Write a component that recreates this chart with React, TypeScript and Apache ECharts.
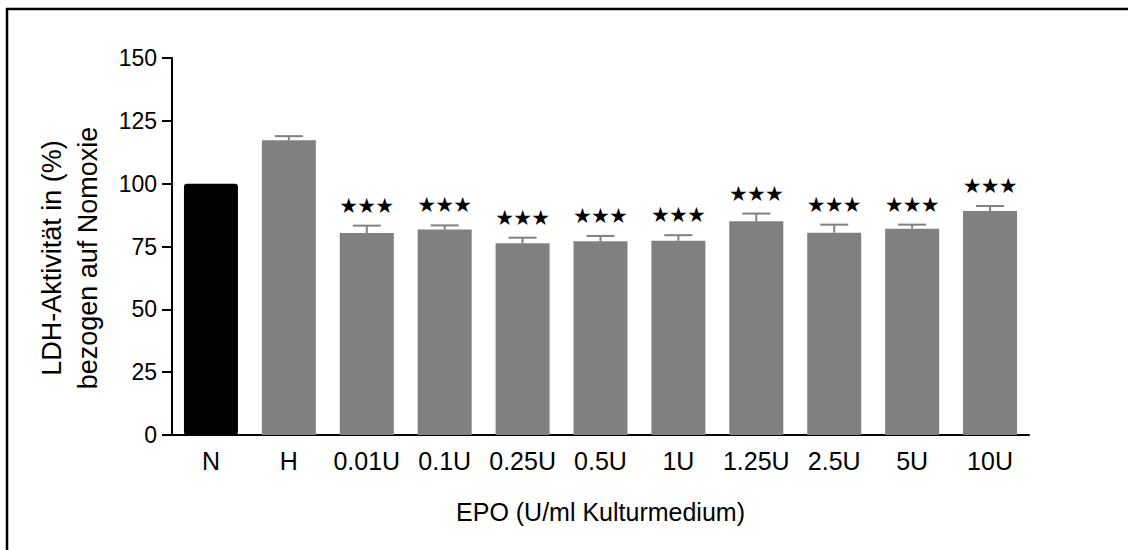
import React, { useEffect, useRef } from "react";
import * as echarts from "echarts";

const categories = ["N", "H", "0.01U", "0.1U", "0.25U", "0.5U", "1U", "1.25U", "2.5U", "5U", "10U"];
const means = [100, 117.3, 80.4, 81.8, 76.3, 77.1, 77.3, 85.0, 80.5, 82.1, 89.1];
const errors = [0, 1.6, 2.9, 1.6, 2.2, 2.1, 2.2, 3.1, 3.2, 1.6, 2.0];
const significant = [false, false, true, true, true, true, true, true, true, true, true];
const yTicks = { min: 0, max: 150, interval: 25 };
const yTitle = "LDH-Aktivität in (%)\nbezogen auf Nomoxie";
const xTitle = "EPO (U/ml Kulturmedium)";

const FONT = "Liberation Sans, Arial, Helvetica, sans-serif";

export default function App() {
  const ref = useRef<HTMLDivElement>(null);
  useEffect(() => {
    if (!ref.current) return;
    const chart = echarts.init(ref.current, undefined, { renderer: "svg" });
    const barData = means.map((v, i) => ({
      value: v,
      itemStyle:
        i === 0
          ? { color: "#000000", borderColor: "#000000", borderWidth: 2, borderRadius: 2 }
          : { color: "#808080" },
    }));
    const errData = means.map((v, i) => [i, v, v + errors[i], significant[i] ? 1 : 0]);
    chart.setOption({
      animation: false,
      backgroundColor: "#ffffff",
      grid: { left: 172, right: 99, top: 58, bottom: 115 },
      xAxis: {
        type: "category",
        data: categories,
        axisLine: { lineStyle: { color: "#000", width: 2 } },
        axisTick: { show: false },
        axisLabel: { color: "#000", fontSize: 25, fontFamily: FONT, margin: 13, interval: 0 },
        name: xTitle,
        nameLocation: "middle",
        nameGap: 64,
        nameTextStyle: { color: "#000", fontSize: 25, fontFamily: FONT },
      },
      yAxis: {
        type: "value",
        min: yTicks.min,
        max: yTicks.max,
        interval: yTicks.interval,
        splitLine: { show: false },
        axisLine: { show: true, lineStyle: { color: "#000", width: 2 } },
        axisTick: { show: true, length: 10, lineStyle: { color: "#000", width: 2 } },
        axisLabel: { color: "#000", fontSize: 23, fontFamily: FONT, margin: 15 },
      },
      graphic: [
        {
          type: "rect",
          shape: { x: 7, y: 9, width: 1300, height: 700 },
          style: { fill: "none", stroke: "#000", lineWidth: 2.5 },
          silent: true,
        },
        {
          type: "text",
          x: 70,
          y: 258,
          rotation: Math.PI / 2,
          style: {
            text: yTitle,
            fill: "#000",
            fontSize: 27,
            fontFamily: FONT,
            align: "center",
            verticalAlign: "middle",
            lineHeight: 36,
          },
        },
      ],
      series: [
        {
          type: "bar",
          data: barData,
          barWidth: 54,
        },
        {
          type: "custom",
          data: errData,
          z: 5,
          renderItem: (params: any, api: any) => {
            const idx = api.value(0);
            const mean = api.coord([idx, api.value(1)]);
            const up = api.coord([idx, api.value(2)]);
            const sig = api.value(3);
            const cap = 14;
            const children: any[] = [];
            if (api.value(2) > api.value(1)) {
              children.push({
                type: "line",
                shape: { x1: mean[0], y1: mean[1], x2: up[0], y2: up[1] },
                style: { stroke: "#808080", lineWidth: 2 },
              });
              children.push({
                type: "line",
                shape: { x1: up[0] - cap, y1: up[1], x2: up[0] + cap, y2: up[1] },
                style: { stroke: "#808080", lineWidth: 2 },
              });
            }
            if (sig) {
              [-18, 0, 18].forEach((dx) => {
                children.push({
                  type: "text",
                  x: up[0] + dx,
                  y: up[1] - 20,
                  style: {
                    text: "★",
                    fill: "#000",
                    fontSize: 21,
                    fontFamily: "DejaVu Sans",
                    align: "center",
                    verticalAlign: "middle",
                  },
                });
              });
            }
            return { type: "group", children };
          },
        },
      ],
    });
    return () => chart.dispose();
  }, []);
  return (
    <div
      ref={ref}
      style={{ position: "fixed", left: 0, top: 0, width: 1128, height: 550, background: "#fff" }}
    />
  );
}
